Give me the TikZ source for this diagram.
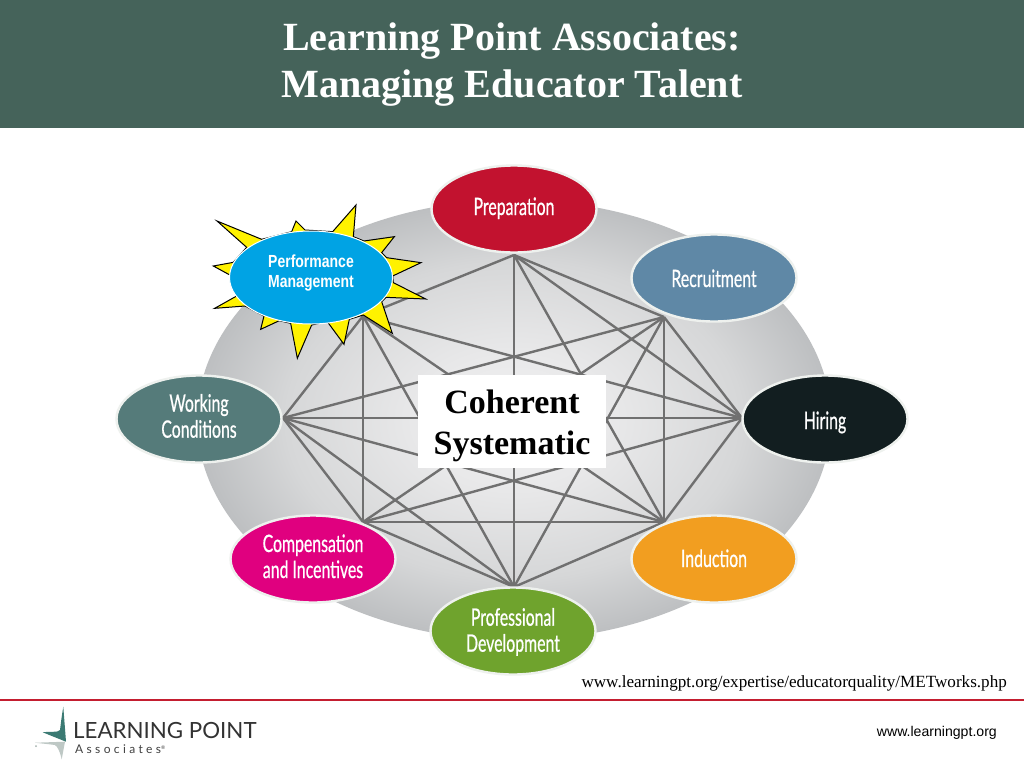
\documentclass[tikz,border=0pt]{standalone}
\usepackage{fontspec}
\usetikzlibrary{shapes.geometric}
\setmainfont{Liberation Serif}
\newfontfamily\arialfont{Liberation Sans}
\newfontfamily\perffont[FakeStretch=0.8]{Liberation Sans}
\newfontfamily\narrowfont[FakeStretch=0.66,FakeBold=0.6]{Lato}
\newfontfamily\logofont{Lato}
\newfontfamily\logospaced[LetterSpace=28]{Lato}
\newcommand{\shiftline}[2]{\raisebox{#1}[0pt][0pt]{#2}}
\definecolor{bandgreen}{HTML}{45635A}
\definecolor{edgegrey}{HTML}{707070}
\definecolor{redline}{HTML}{C41E30}
\definecolor{ringwhite}{HTML}{EEF1EE}
\definecolor{discmid}{HTML}{E8E8E9}
\definecolor{discmidb}{HTML}{D6D7D8}
\definecolor{disccentre}{HTML}{F2F2F3}
\definecolor{discedge}{HTML}{BDBFC1}
\pgfdeclareradialshading{discshade}{\pgfpoint{0bp}{0bp}}{color(0bp)=(disccentre); color(8bp)=(discmid); color(18bp)=(discmidb); color(25bp)=(discedge); color(50bp)=(discedge)}
\tikzset{
  stage/.style={ellipse,draw=ringwhite,line width=2.4pt,minimum width=165pt,minimum height=87pt,inner sep=0pt,
    text=white,align=center,font=\narrowfont\fontsize{24}{26}\selectfont},
  linkline/.style={draw=edgegrey,line width=2.4pt},
  titletext/.style={text=white,align=center,font=\bfseries\fontsize{40}{47}\selectfont},
}
\begin{document}
\begin{tikzpicture}[x=1pt,y=-1pt]
\useasboundingbox (0,0) rectangle (1024,768);
\fill[white] (0,0) rectangle (1024,768);
% title band
\fill[bandgreen] (0,0) rectangle (1024,128);
\node[titletext,inner sep=0pt] (title) at (512,65) {Learning Point Associates:\\Managing Educator Talent};
% disc
\path[shading=discshade] (514,420) ellipse [x radius=317,y radius=220];
% graph vertices
\coordinate (vT) at (514,255);
\coordinate (vTR) at (664,317);
\coordinate (vR) at (742,418);
\coordinate (vBR) at (664,522);
\coordinate (vB) at (514,587);
\coordinate (vBL) at (363,522);
\coordinate (vL) at (283,418);
\coordinate (vTL) at (363,316);
\foreach \a/\b in {vT/vTR,vT/vR,vT/vBR,vT/vB,vT/vTL,
  vTR/vR,vTR/vBR,vTR/vB,vTR/vBL,vTR/vL,
  vR/vBR,vR/vBL,vR/vL,vR/vTL,
  vBR/vB,vBR/vBL,vBR/vL,vBR/vTL,
  vB/vBL,vB/vL,vB/vTL,
  vBL/vL,vBL/vTL,
  vL/vTL}
  \draw[linkline] (\a) -- (\b);
% sun behind Performance Management
\begin{scope}[shift={(190,190)},scale=0.33333]
\filldraw[fill=yellow,draw=black,line width=1pt,line join=miter]
  (170,172)--(81,93)--(215,148)--(305,125)--(318,93)--(345,120)--(428,125)--(498,45)--(490,140)
  --(522,153)--(613,140)--(575,188)--(590,203)--(693,218)--(608,258)--(610,278)--(707,327)--(588,322)
  --(575,335)--(607,430)--(520,375)--(478,388)--(462,463)--(412,395)--(365,405)--(322,505)--(302,400)
  --(268,392)--(212,418)--(222,378)--(165,348)--(74,355)--(140,318)--(125,258)--(70,228)--(130,217)--cycle;
\end{scope}
% stages
\node[stage,fill={rgb,255:red,194;green,18;blue,47}] (prep) at (514,209) {\shiftline{-6pt}{Preparation}};
\node[stage,fill={rgb,255:red,95;green,136;blue,166}] (recr) at (714,278) {\shiftline{-9pt}{Recruitment}};
\node[stage,fill={rgb,255:red,18;green,30;blue,32}] (hire) at (825,419) {\shiftline{-10pt}{Hiring}};
\node[stage,fill={rgb,255:red,242;green,158;blue,32}] (indu) at (714,559) {\shiftline{-8pt}{Induction}};
\node[stage,fill={rgb,255:red,111;green,163;blue,45}] (prof) at (513,631) {\shiftline{-7.7pt}{Professional}\\\shiftline{-7.7pt}{Development}};
\node[stage,fill={rgb,255:red,224;green,0;blue,127}] (comp) at (313,559) {\shiftline{-6pt}{Compensation}\\\shiftline{-6pt}{and Incentives}};
\node[stage,fill={rgb,255:red,85;green,123;blue,122}] (work) at (199,419) {\shiftline{-5.7pt}{Working}\\\shiftline{-5.7pt}{Conditions}};
\node[ellipse,fill={rgb,255:red,0;green,163;blue,228},draw=white,line width=1pt,minimum width=163pt,minimum height=93pt,inner sep=0pt,
  text=white,align=center,font=\perffont\bfseries\fontsize{17.5}{21}\selectfont] (perf) at (311,277.5) {\shiftline{-10pt}{\shortstack{Performance\\[5pt]Management}}};
% centre box
\node[fill=white,minimum width=188pt,minimum height=93pt,inner sep=0pt,align=center,font=\bfseries\fontsize{34}{41}\selectfont] (centre) at (512,421.5) {\shiftline{-12.5pt}{Coherent}\\\shiftline{-12.5pt}{Systematic}};
% footer
\node[anchor=base east,inner sep=0pt,font=\fontsize{17.1}{18}\selectfont] (url) at (1007,687) {www.learningpt.org/expertise/educatorquality/METworks.php};
\fill[redline] (0,698.5) rectangle (1024,701);
\node[anchor=base east,inner sep=0pt,font=\arialfont\fontsize{14.1}{16}\selectfont] (site) at (997,736) {www.learningpt.org};
% logo
\fill[bandgreen!85!cyan] (63.3,706.7) -- (66,741.7) -- (42.7,732.3) .. controls (50,731) and (58,733) .. (60,730) .. controls (61,722) and (62,714) .. (63.3,706.7) -- cycle;
\fill[bandgreen!35!white] (35,742.7) -- (65,741.7) -- (61.7,759.3) .. controls (60,752) and (58,747) .. (55,745) .. controls (48,744) and (41,743.5) .. (35,742.7) -- cycle;
\fill[bandgreen!50!white] (36,746) circle (1pt);
\node[anchor=base west,inner sep=0pt,text=black!80,font=\logofont\fontsize{22.3}{23}\selectfont] (logoa) at (73,738.5) {LEARNING POINT};
\node[anchor=base west,inner sep=0pt,text=black!75,font=\logospaced\fontsize{12}{13}\selectfont] (logob) at (75,753.5) {Associates\textsuperscript{\tiny ®}};
\end{tikzpicture}
\end{document}
